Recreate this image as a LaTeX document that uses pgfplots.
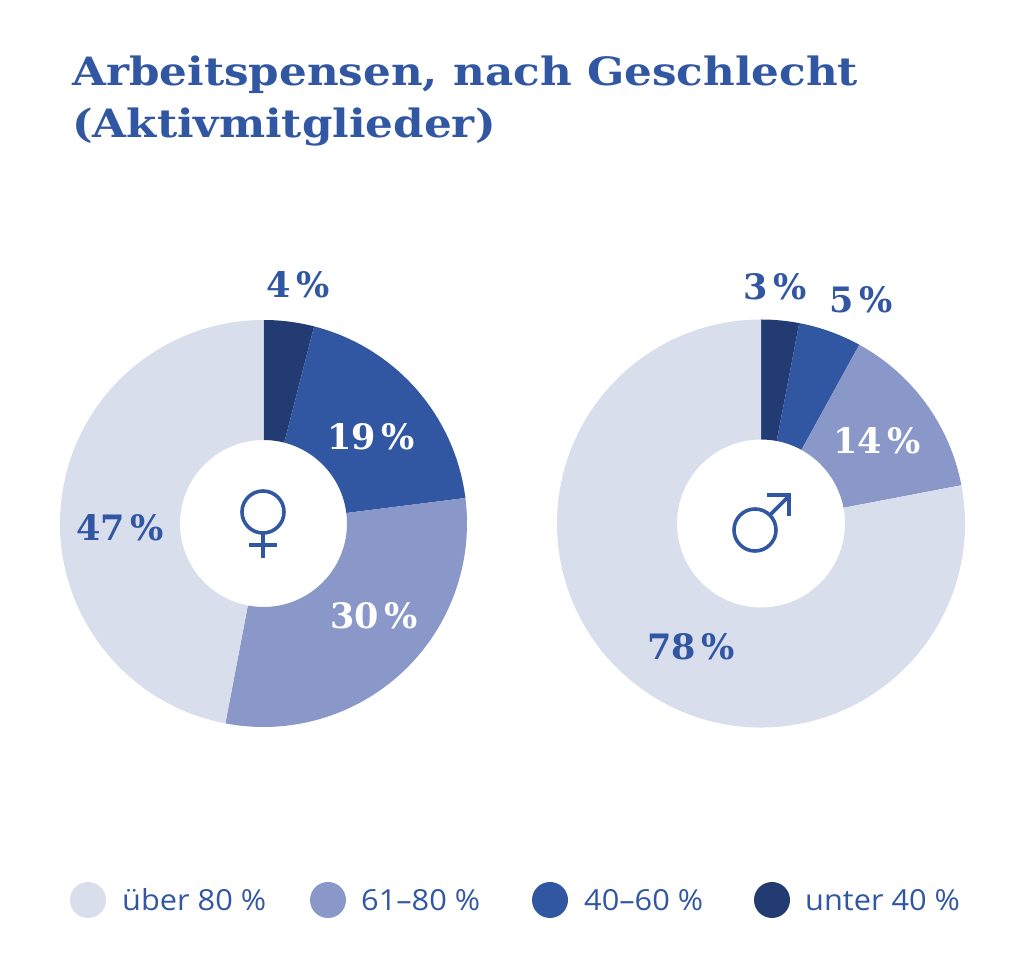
\documentclass[border=0pt]{standalone}
\usepackage{fontspec}
\usepackage{pgfplots}
\pgfplotsset{compat=1.18}
\setmainfont{Open Sans}
\newfontfamily\serifb{DejaVu Serif}
\definecolor{cA}{HTML}{D9DEED}
\definecolor{cB}{HTML}{8A97C9}
\definecolor{cC}{HTML}{3157A3}
\definecolor{cD}{HTML}{233B73}
\definecolor{tb}{HTML}{3157A3}
% donut slice: cx, cy, cumulative start (%), share (%), colour, outer r, inner r
\newcommand\slice[7]{%
  \fill[#5] (axis cs:#1,#2) ++({90-3.6*(#3)}:#6pt)
    arc[start angle={90-3.6*(#3)}, end angle={90-3.6*((#3)+(#4))}, radius=#6pt]
    -- ++({270-3.6*((#3)+(#4))}:{(#6-#7)*1pt})
    arc[start angle={90-3.6*((#3)+(#4))}, end angle={90-3.6*(#3)}, radius=#7pt]
    -- cycle;}
\newcommand\pl[1]{{\serifb\bfseries\fontsize{35}{35}\selectfont #1\,\%}}
\newcommand\legtext[1]{\scalebox{1.06}[1]{\fontsize{29}{29}\selectfont #1}}
\begin{document}
\begin{tikzpicture}
\begin{axis}[x=1pt,y=1pt,xmin=0,xmax=1013,ymin=0,ymax=975,
  hide axis,clip=false,scale only axis,anchor=origin,at={(0,0)}]
\path (axis cs:0,0) rectangle (axis cs:1013,975);
% title
\node[anchor=base west,text=tb,inner sep=0pt] at (axis cs:72,889)
  {\scalebox{1.12}[1]{\serifb\bfseries\fontsize{39}{39}\selectfont Arbeitspensen, nach Geschlecht}};
\node[anchor=base west,text=tb,inner sep=0pt] at (axis cs:72,837)
  {\scalebox{1.12}[1]{\serifb\bfseries\fontsize{39}{39}\selectfont (Aktivmitglieder)}};
% female donut: unter 40 = 4, 40-60 = 19, 61-80 = 30, ueber 80 = 47
\slice{263.5}{451.5}{0}{4}{cD}{203.5}{83.5}
\slice{263.5}{451.5}{4}{19}{cC}{203.5}{83.5}
\slice{263.5}{451.5}{23}{30}{cB}{203.5}{83.5}
\slice{263.5}{451.5}{53}{47}{cA}{203.5}{83.5}
% male donut: unter 40 = 3, 40-60 = 5, 61-80 = 14, ueber 80 = 78
\slice{761}{451.5}{0}{3}{cD}{204}{84}
\slice{761}{451.5}{3}{5}{cC}{204}{84}
\slice{761}{451.5}{8}{14}{cB}{204}{84}
\slice{761}{451.5}{22}{78}{cA}{204}{84}
% value labels
\node[text=tb] at (axis cs:298,690) {\pl{4}};
\node[text=white] at (axis cs:371,538) {\pl{19}};
\node[text=white] at (axis cs:374,359) {\pl{30}};
\node[text=tb] at (axis cs:120,447) {\pl{47}};
\node[text=tb] at (axis cs:775,688) {\pl{3}};
\node[text=tb] at (axis cs:861,675) {\pl{5}};
\node[text=white] at (axis cs:877,534) {\pl{14}};
\node[text=tb] at (axis cs:691,328) {\pl{78}};
% gender symbols
\draw[tb,line width=3.6pt] (axis cs:263,463) circle[radius=21pt];
\draw[tb,line width=3.6pt] (axis cs:263,442) -- (axis cs:263,417);
\draw[tb,line width=3.6pt] (axis cs:249,430) -- (axis cs:277,430);
\draw[tb,line width=3.6pt] (axis cs:755,445) circle[radius=21pt];
\draw[tb,line width=3.6pt] (axis cs:769.8,459.8) -- (axis cs:788,478);
\draw[tb,line width=3.6pt,line join=miter] (axis cs:767,480) -- (axis cs:789,480) -- (axis cs:789,459);
% legend
\fill[cA] (axis cs:88,75) circle[radius=18pt];
\fill[cB] (axis cs:328,75) circle[radius=18pt];
\fill[cC] (axis cs:550,75) circle[radius=18pt];
\fill[cD] (axis cs:772,75) circle[radius=18pt];
\node[anchor=base west,text=tb,inner sep=0pt] at (axis cs:122,64) {\legtext{über 80 \%}};
\node[anchor=base west,text=tb,inner sep=0pt] at (axis cs:361,64) {\legtext{61–80 \%}};
\node[anchor=base west,text=tb,inner sep=0pt] at (axis cs:584,64) {\legtext{40–60 \%}};
\node[anchor=base west,text=tb,inner sep=0pt] at (axis cs:805,64) {\legtext{unter 40 \%}};
\end{axis}
\end{tikzpicture}
\end{document}
